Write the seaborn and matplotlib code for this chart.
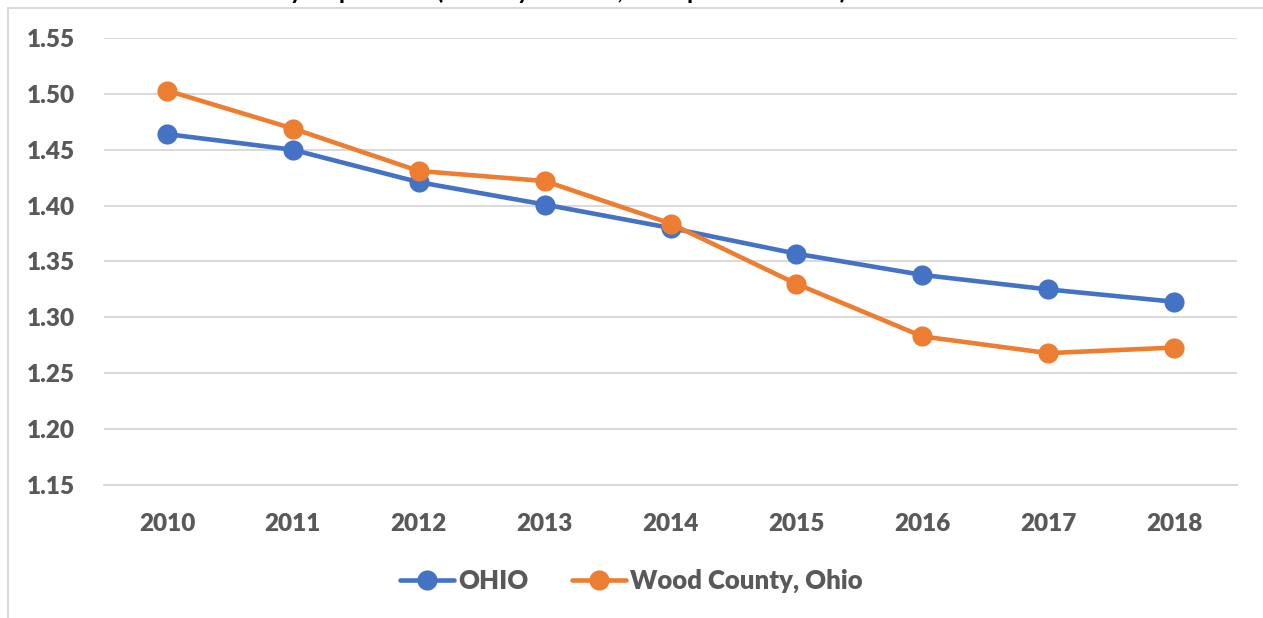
import matplotlib
matplotlib.use("Agg")
import matplotlib.pyplot as plt
from matplotlib.lines import Line2D
import seaborn as sns
import pandas as pd

# data
years = [2010, 2011, 2012, 2013, 2014, 2015, 2016, 2017, 2018]
ohio = [1.464, 1.450, 1.421, 1.401, 1.380, 1.357, 1.338, 1.325, 1.314]
wood = [1.503, 1.469, 1.431, 1.422, 1.384, 1.330, 1.283, 1.268, 1.273]
series_names = ["OHIO", "Wood County, Ohio"]
y_ticks = [1.15, 1.20, 1.25, 1.30, 1.35, 1.40, 1.45, 1.50, 1.55]
title = "Ratio of Births to County Population (15-44 years old, Rate per Thousand)"

df = pd.DataFrame({
    "year": years * 2,
    "value": ohio + wood,
    "series": [series_names[0]] * len(years) + [series_names[1]] * len(years),
})

sns.set_style("white")
plt.rcParams["font.family"] = ["Lato", "DejaVu Sans"]

grey = "#595959"
grid = "#D9D9D9"
palette = {series_names[0]: "#4472C4", series_names[1]: "#ED7D31"}
fsize = 17.5
weight = "heavy"

fig = plt.figure(figsize=(12.63, 6.18), dpi=100)
ax = fig.add_axes([104 / 1263, 1 - 485 / 618, (1237 - 104) / 1263, (485 - 38) / 618])

sns.lineplot(data=df, x="year", y="value", hue="series", palette=palette,
             marker="o", markersize=14.5, markeredgewidth=0, linewidth=3.3,
             ax=ax, legend=False, zorder=3)

ax.set_xlim(years[0] - 0.5, years[-1] + 0.5)
ax.set_ylim(y_ticks[0], y_ticks[-1])
ax.set_xticks(years)
ax.set_xticklabels([str(y) for y in years])
ax.set_yticks(y_ticks)
ax.set_yticklabels(["%.2f" % v for v in y_ticks])
ax.set_xlabel("")
ax.set_ylabel("")
ax.yaxis.grid(True, color=grid, linewidth=1.4)
ax.set_axisbelow(True)
for side in ["top", "right", "left"]:
    ax.spines[side].set_visible(False)
ax.spines["bottom"].set_color(grid)
ax.spines["bottom"].set_linewidth(1.4)
ax.tick_params(axis="both", length=0, labelsize=fsize, labelcolor=grey)
ax.tick_params(axis="x", pad=20)
ax.tick_params(axis="y", pad=21)
for lab in ax.get_xticklabels() + ax.get_yticklabels():
    lab.set_fontweight(weight)

# legend below the axes
handles = [Line2D([0], [0], color=palette[n], linewidth=3.3, marker="o",
                  markersize=14.5, markeredgewidth=0) for n in series_names]
leg = fig.legend(handles, series_names, loc="center", bbox_to_anchor=(0.5, 1 - 581 / 618),
                 ncol=2, frameon=False, handlelength=2.1, handletextpad=0.15,
                 columnspacing=1.7, prop={"size": 18.5, "weight": weight})
for t in leg.get_texts():
    t.set_color(grey)

# chart area border (top and left), title cropped off at the top
fig.add_artist(Line2D([8 / 1263, 1], [1 - 8 / 618, 1 - 8 / 618], color=grid, linewidth=1.4))
fig.add_artist(Line2D([8 / 1263, 8 / 1263], [0, 1 - 8 / 618], color=grid, linewidth=1.4))
fig.text(24 / 1263, 1 + 1 / 618, title, fontsize=18, fontweight="bold",
         color="black", va="baseline", ha="left")

fig.savefig("out.png", dpi=100)
